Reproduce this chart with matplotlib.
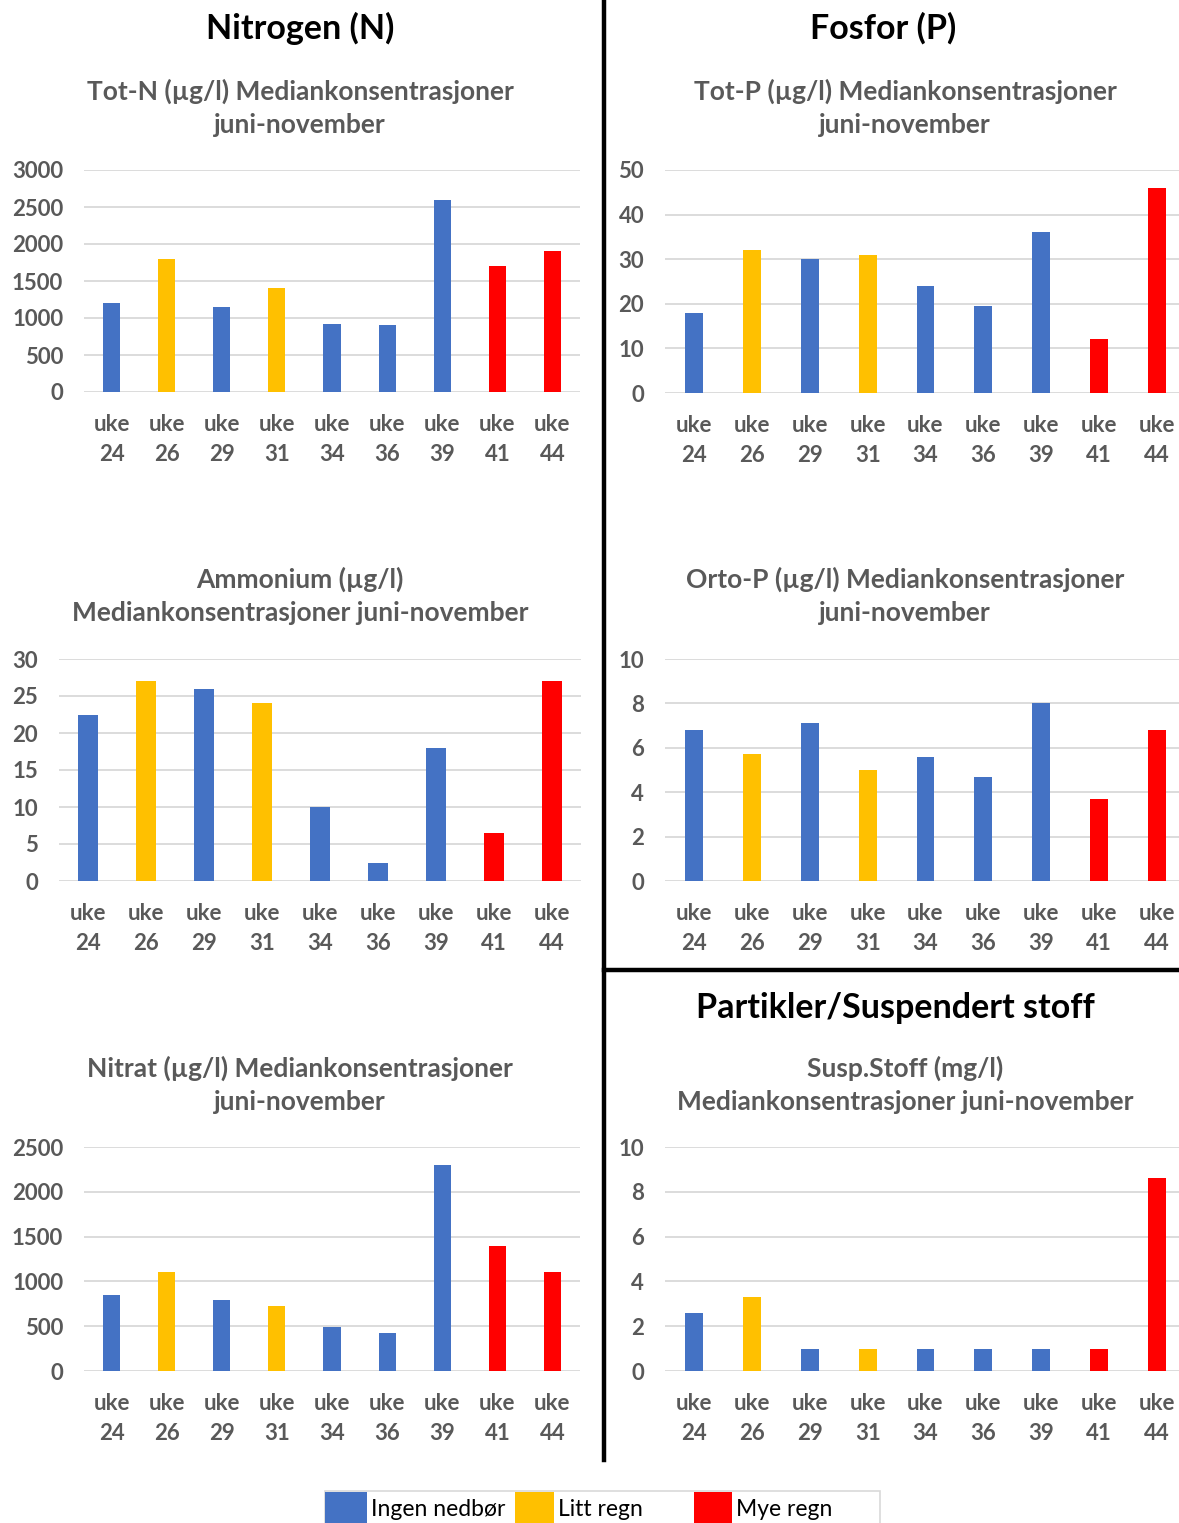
import matplotlib
matplotlib.use('Agg')
import matplotlib.pyplot as plt
from matplotlib.patches import Rectangle
from matplotlib.lines import Line2D
import numpy as np

plt.rcParams['font.family'] = ['Lato', 'DejaVu Sans']

# =========================
# data
# =========================

weeks = ['uke\n24', 'uke\n26', 'uke\n29', 'uke\n31', 'uke\n34', 'uke\n36', 'uke\n39', 'uke\n41', 'uke\n44']
weather = ['Ingen nedbør', 'Litt regn', 'Ingen nedbør', 'Litt regn', 'Ingen nedbør',
           'Ingen nedbør', 'Ingen nedbør', 'Mye regn', 'Mye regn']

tot_n = [1200, 1800, 1150, 1400, 920, 900, 2600, 1700, 1900]
tot_p = [18, 32, 30, 31, 24, 19.5, 36, 12, 46]
ammonium = [22.5, 27, 26, 24, 10, 2.4, 18, 6.5, 27]
orto_p = [6.8, 5.7, 7.1, 5.0, 5.6, 4.7, 8.0, 3.7, 6.8]
nitrat = [850, 1100, 790, 725, 490, 425, 2300, 1400, 1100]
susp = [2.6, 3.3, 1, 1, 1, 1, 1, 1, 8.6]

colors = {'Ingen nedbør': '#4472C4', 'Litt regn': '#FFC000', 'Mye regn': '#FF0000'}

W, H = 1179, 1523
fig = plt.figure(figsize=(W / 100, H / 100), dpi=100)

GRAY = '#595959'


def px_axes(left, right, top, bottom):
    return fig.add_axes([left / W, 1 - bottom / H, (right - left) / W, (bottom - top) / H])


def bar_panel(ax, values, ymax, step, width=0.31):
    x = np.arange(len(weeks))
    ax.bar(x, values, width=width, color=[colors[w] for w in weather], zorder=3)
    ax.set_xlim(-0.5, len(weeks) - 0.5)
    ax.set_ylim(0, ymax)
    ax.set_yticks(np.arange(0, ymax + step / 2, step))
    ax.set_xticks(x)
    ax.set_xticklabels(weeks, linespacing=1.5)
    ax.grid(axis='y', color='#D9D9D9', linewidth=1.3, zorder=0)
    ax.set_axisbelow(True)
    for s in ax.spines.values():
        s.set_visible(False)
    ax.tick_params(axis='both', length=0, labelsize=16, colors=GRAY)
    for lab in ax.get_xticklabels() + ax.get_yticklabels():
        lab.set_fontweight('bold')
    ax.tick_params(axis='y', pad=15)
    ax.tick_params(axis='x', pad=16)


# panels
ax1 = px_axes(84, 580, 170, 392)
bar_panel(ax1, tot_n, 3000, 500)
ax2 = px_axes(665, 1186, 170, 393)
bar_panel(ax2, tot_p, 50, 10)
ax3 = px_axes(59, 581, 659, 881)
bar_panel(ax3, ammonium, 30, 5, width=0.33)
ax4 = px_axes(665, 1186, 659, 881)
bar_panel(ax4, orto_p, 10, 2)
ax5 = px_axes(84, 580, 1147, 1371)
bar_panel(ax5, nitrat, 2500, 500)
ax6 = px_axes(665, 1186, 1147, 1371)
bar_panel(ax6, susp, 10, 2)


def ftext(x, y, s, ha='center', **kw):
    fig.text(x / W, 1 - y / H, s, ha=ha, va='center', **kw)


# section headers
hkw = dict(fontsize=24.5, fontweight='bold', color='black')
ftext(300, 28, 'Nitrogen (N)', **hkw)
ftext(883, 28, 'Fosfor (P)', **hkw)
ftext(895, 1008, 'Partikler/Suspendert stoff', **hkw)

# chart titles
tkw = dict(fontsize=19, fontweight='bold', color=GRAY, linespacing=1.48)
ftext(300, 108, 'Tot-N (µg/l) Mediankonsentrasjoner\njuni-november', **tkw)
ftext(905, 108, 'Tot-P (µg/l) Mediankonsentrasjoner\njuni-november', **tkw)
ftext(300, 596, 'Ammonium (µg/l)\nMediankonsentrasjoner juni-november', **tkw)
ftext(905, 596, 'Orto-P (µg/l) Mediankonsentrasjoner\njuni-november', **tkw)
ftext(300, 1085, 'Nitrat (µg/l) Mediankonsentrasjoner\njuni-november', **tkw)
ftext(905, 1085, 'Susp.Stoff (mg/l)\nMediankonsentrasjoner juni-november', **tkw)

# black dividers
fig.add_artist(Line2D([603.5 / W, 603.5 / W], [1, 1 - 1460 / H], color='black', linewidth=3.2))
fig.add_artist(Line2D([603.5 / W, 1], [1 - 970.5 / H, 1 - 970.5 / H], color='black', linewidth=3.2))

# legend (Excel style, box runs off the bottom edge)
fig.add_artist(Rectangle((325 / W, -0.01), (880 - 325) / W, 0.01 + (H - 1491) / H,
                         transform=fig.transFigure, facecolor='white',
                         edgecolor='#D9D9D9', linewidth=1.2))
patch_x = [325, 515, 694]
patch_w = [42, 39, 38]
for (label, c), px, pw in zip(colors.items(), patch_x, patch_w):
    fig.add_artist(Rectangle((px / W, 0), pw / W, (H - 1492) / H,
                             transform=fig.transFigure, facecolor=c, edgecolor='none'))
    ftext(px + pw + 4, 1509, label, ha='left', fontsize=16.5, color='black')

fig.savefig('out.png', dpi=100)
